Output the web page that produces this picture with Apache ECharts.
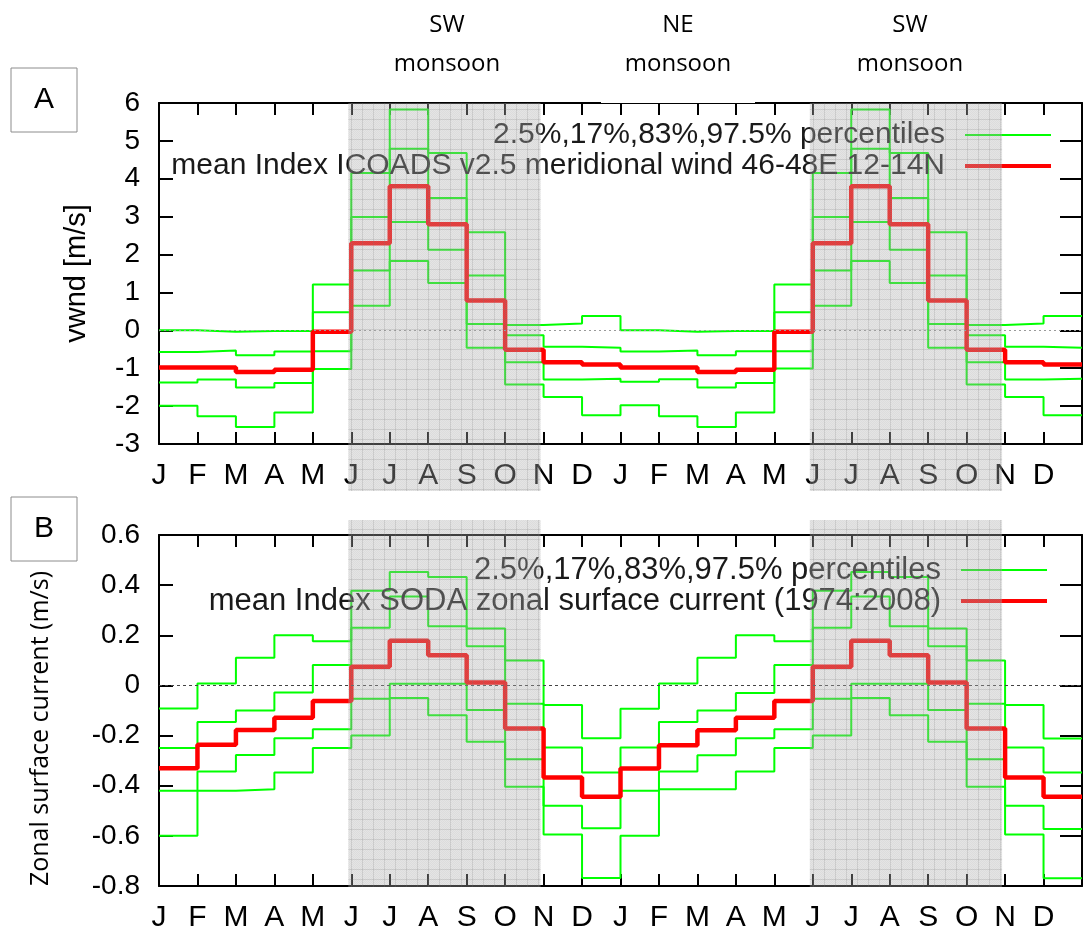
<!DOCTYPE html>
<html><head><meta charset="utf-8">
<script src="https://cdn.jsdelivr.net/npm/echarts@6/dist/echarts.min.js"></script>
<style>html,body{margin:0;padding:0;background:#fff}#c{width:1085px;height:933px}</style>
</head><body><div id="c"></div>
<script>
// ---------- data ----------
const months = ['J','F','M','A','M','J','J','A','S','O','N','D','J','F','M','A','M','J','J','A','S','O','N','D'];
const monsoonBands = [[5, 10], [17, 22]];
const yTicksA = { min: -3, max: 6, step: 1 };
const yTicksB = { min: -0.8, max: 0.6, step: 0.2 };

const namePct = '2.5%,17%,83%,97.5% percentiles';
const nameA_mean = 'mean Index ICOADS v2.5 meridional wind 46-48E 12-14N';
const nameB_mean = 'mean Index SODA zonal surface current (1974:2008)';

// Panel A: meridional wind (m/s)
const A_p975 = [0.00,-0.04,-0.02,-0.02,1.21,4.15,5.83,4.68,2.59,0.14,0.18,0.38, 0.00,-0.04,-0.02,-0.02,1.21,4.15,5.83,4.68,2.59,0.14,0.18,0.38];
const A_p83  = [-0.57,-0.53,-0.66,-0.56,0.48,2.99,4.79,3.49,1.45,-0.13,-0.43,-0.46, -0.56,-0.53,-0.66,-0.55,0.48,2.99,4.79,3.49,1.45,-0.13,-0.43,-0.46];
const A_mean = [-0.98,-0.98,-1.10,-1.04,-0.04,2.30,3.80,2.80,0.79,-0.51,-0.84,-0.90, -0.98,-0.98,-1.10,-1.04,-0.04,2.30,3.80,2.80,0.79,-0.51,-0.84,-0.90];
const A_p17  = [-1.38,-1.30,-1.51,-1.39,-0.55,1.58,2.86,2.13,0.17,-0.84,-1.30,-1.28, -1.36,-1.29,-1.51,-1.39,-0.55,1.58,2.86,2.13,0.17,-0.84,-1.30,-1.28];
const A_p025 = [-1.99,-2.27,-2.55,-2.17,-1.02,0.65,1.83,1.25,-0.46,-1.43,-1.76,-2.24, -1.98,-2.27,-2.55,-2.17,-1.01,0.65,1.83,1.25,-0.46,-1.43,-1.76,-2.24];

// Panel B: zonal surface current (m/s)
const B_p975 = [-0.092,0.008,0.110,0.200,0.176,0.378,0.452,0.432,0.227,0.099,-0.078,-0.211, -0.093,0.008,0.110,0.200,0.176,0.378,0.452,0.432,0.227,0.099,-0.078,-0.212];
const B_p83  = [-0.250,-0.146,-0.100,-0.028,0.081,0.230,0.355,0.236,0.156,-0.073,-0.248,-0.347, -0.248,-0.146,-0.100,-0.030,0.081,0.230,0.355,0.236,0.156,-0.073,-0.248,-0.347];
const B_mean = [-0.330,-0.237,-0.178,-0.129,-0.062,0.075,0.178,0.120,0.012,-0.172,-0.367,-0.444, -0.331,-0.239,-0.179,-0.129,-0.062,0.075,0.178,0.120,0.012,-0.172,-0.367,-0.444];
const B_p17  = [-0.420,-0.343,-0.277,-0.211,-0.175,-0.053,0.007,0.007,-0.098,-0.294,-0.480,-0.570, -0.420,-0.343,-0.278,-0.211,-0.175,-0.053,0.007,0.007,-0.098,-0.294,-0.480,-0.573];
const B_p025 = [-0.600,-0.420,-0.414,-0.347,-0.250,-0.200,-0.050,-0.119,-0.225,-0.404,-0.595,-0.768, -0.600,-0.414,-0.414,-0.343,-0.250,-0.200,-0.050,-0.119,-0.225,-0.404,-0.595,-0.769];

// ---------- helpers ----------
const FONT = 'Liberation Sans, Arial, sans-serif';
const GREEN = '#00ff00', RED = '#ff0000';
function stepData(vals) {
  const d = vals.map((v, i) => [i, v]);
  d.push([vals.length, vals[vals.length - 1]]);
  return d;
}
function lineSeries(name, vals, xi, yi, color, width, z, extra) {
  return Object.assign({
    type: 'line', name, data: stepData(vals), step: 'end', symbol: 'none',
    xAxisIndex: xi, yAxisIndex: yi, color, itemStyle: { color },
    lineStyle: { color, width }, z, silent: true, animation: false
  }, extra || {});
}
function zeroLine(color, dash) {
  return { silent: true, symbol: 'none', label: { show: false }, animation: false,
    lineStyle: { color, type: dash, width: 1 }, data: [{ yAxis: 0 }] };
}
function xAxes(gridIndex, labelMargin) {
  const base = { type: 'value', gridIndex, min: 0, max: months.length, interval: 1,
    splitLine: { show: false },
    axisLine: { show: true, onZero: false, lineStyle: { color: '#000', width: 2 } },
    axisTick: { show: true, inside: true, length: 12, lineStyle: { color: '#000', width: 2 } } };
  return [
    Object.assign({}, base, { position: 'bottom',
      axisLabel: { show: true, margin: labelMargin, fontSize: 30, fontFamily: FONT, color: '#000',
        formatter: v => (v < months.length ? months[v] : '') } }),
    Object.assign({}, base, { position: 'top', axisLabel: { show: false } })
  ];
}
function yAxes(gridIndex, t, name, nameStyle, nameGap) {
  const base = { type: 'value', gridIndex, min: t.min, max: t.max, interval: t.step,
    splitLine: { show: false },
    axisLine: { show: true, onZero: false, lineStyle: { color: '#000', width: 2 } },
    axisTick: { show: true, inside: true, length: 14, lineStyle: { color: '#000', width: 2 } } };
  return [
    Object.assign({}, base, { position: 'left', name, nameLocation: 'middle', nameRotate: 90, nameGap,
      nameTextStyle: nameStyle,
      axisLabel: { show: true, margin: 19, fontSize: 28, fontFamily: FONT, color: '#000',
        formatter: v => String(+v.toFixed(1)) } }),
    Object.assign({}, base, { position: 'right', axisLabel: { show: false },
      axisTick: { show: true, inside: true, length: 22, lineStyle: { color: '#000', width: 2 } } })
  ];
}
function legendLine(name, top, right, h, fs) {
  return { data: [name], top, right, orient: 'horizontal', align: 'right', icon: 'rect',
    itemWidth: 86, itemHeight: h, selectedMode: false, z: 4,
    textStyle: { fontSize: fs, fontFamily: FONT, color: '#1a1a1a', padding: [0, 15, 0, 0], lineHeight: 34 } };
}

// ---------- chart ----------
const chart = echarts.init(document.getElementById('c'), null, { renderer: 'canvas' });
const option = {
  animation: false,
  backgroundColor: '#fff',
  grid: [
    { left: 159, top: 103, width: 936, height: 341, containLabel: false },
    { left: 159, top: 535, width: 936, height: 352, containLabel: false }
  ],
  xAxis: [].concat(xAxes(0, 17), xAxes(1, 17)),
  yAxis: [].concat(
    yAxes(0, yTicksA, 'vwnd [m/s]', { fontSize: 29, fontFamily: FONT, color: '#000' }, 68),
    yAxes(1, yTicksB, 'Zonal surface current (m/s)', { fontSize: 25, fontFamily: 'Open Sans, sans-serif', color: '#000', padding: [0, 36, 0, 0] }, 106)
  ),
  legend: [
    legendLine(namePct, 113, 29, 2, 30),
    legendLine(nameA_mean, 144, 29, 4, 30),
    legendLine(namePct, 548, 33, 2, 31),
    legendLine(nameB_mean, 579, 33, 4, 31)
  ],
  series: [
    lineSeries(namePct, A_p975, 0, 0, GREEN, 2, 2),
    lineSeries(namePct, A_p83, 0, 0, GREEN, 2, 2),
    lineSeries(namePct, A_p17, 0, 0, GREEN, 2, 2),
    lineSeries(namePct, A_p025, 0, 0, GREEN, 2, 2),
    lineSeries(nameA_mean, A_mean, 0, 0, RED, 4.5, 3, { markLine: zeroLine('#9a9a9a', [2, 3]) }),
    lineSeries(namePct, B_p975, 2, 2, GREEN, 2, 2),
    lineSeries(namePct, B_p83, 2, 2, GREEN, 2, 2),
    lineSeries(namePct, B_p17, 2, 2, GREEN, 2, 2),
    lineSeries(namePct, B_p025, 2, 2, GREEN, 2, 2),
    lineSeries(nameB_mean, B_mean, 2, 2, RED, 4.5, 3, { markLine: zeroLine('#444', [3, 3]) })
  ]
};
chart.setOption(option);

// shading pattern (semi-transparent, drawn above everything like the reference)
const pat = document.createElement('canvas');
pat.width = 11; pat.height = 10;
const g = pat.getContext('2d');
g.fillStyle = 'rgba(180,180,180,0.36)';
g.fillRect(0, 0, 11, 10);
for (let x = 0; x < 11; x++) for (let y = 0; y < 10; y++) {
  if ((x + y) % 2 === 0) { g.fillStyle = 'rgba(0,0,0,0.035)'; g.fillRect(x, y, 1, 1); }
}
g.fillStyle = 'rgba(120,120,120,0.2)';
g.fillRect(10, 0, 1, 10);
g.fillRect(0, 9, 11, 1);

const elements = [];
[[0, 103, 491], [2, 520, 887]].forEach(([xi, top, bottom]) => {
  monsoonBands.forEach(([a, b]) => {
    const x0 = chart.convertToPixel({ xAxisIndex: xi }, a) - 3;
    const x1 = chart.convertToPixel({ xAxisIndex: xi }, b) - 3;
    elements.push({ type: 'rect', silent: true, z: 100,
      shape: { x: x0, y: top, width: x1 - x0, height: bottom - top },
      style: { fill: { image: pat, repeat: 'repeat' } } });
  });
});
// white box behind the NE monsoon label (covers part of the top frame)
elements.push({ type: 'rect', silent: true, z: 101, shape: { x: 601, y: 40, width: 154, height: 63 }, style: { fill: '#fff' } });
// season labels
const seasonLabels = [['SW', 'monsoon'], ['NE', 'monsoon'], ['SW', 'monsoon']];
const labelCentres = [447, 678, 910];
seasonLabels.forEach((l, i) => {
  [[l[0], 25], [l[1], 64]].forEach(([t, y]) => elements.push({ type: 'text', silent: true, z: 102,
    x: labelCentres[i], y, style: { text: t, fill: '#000', font: '24px "Open Sans", sans-serif', align: 'center', verticalAlign: 'middle' } }));
});
// panel letters
[['A', 68], ['B', 497]].forEach(([t, y]) => {
  elements.push({ type: 'rect', silent: true, z: 102, shape: { x: 11, y, width: 66, height: 64 },
    style: { fill: '#fff', stroke: '#8c8c8c', lineWidth: 1 } });
  elements.push({ type: 'text', silent: true, z: 103, x: 44, y: y + 32,
    style: { text: t, fill: '#000', font: '30px "Liberation Sans", Arial, sans-serif', align: 'center', verticalAlign: 'middle' } });
});
chart.setOption({ graphic: { elements } });
</script>
</body></html>
